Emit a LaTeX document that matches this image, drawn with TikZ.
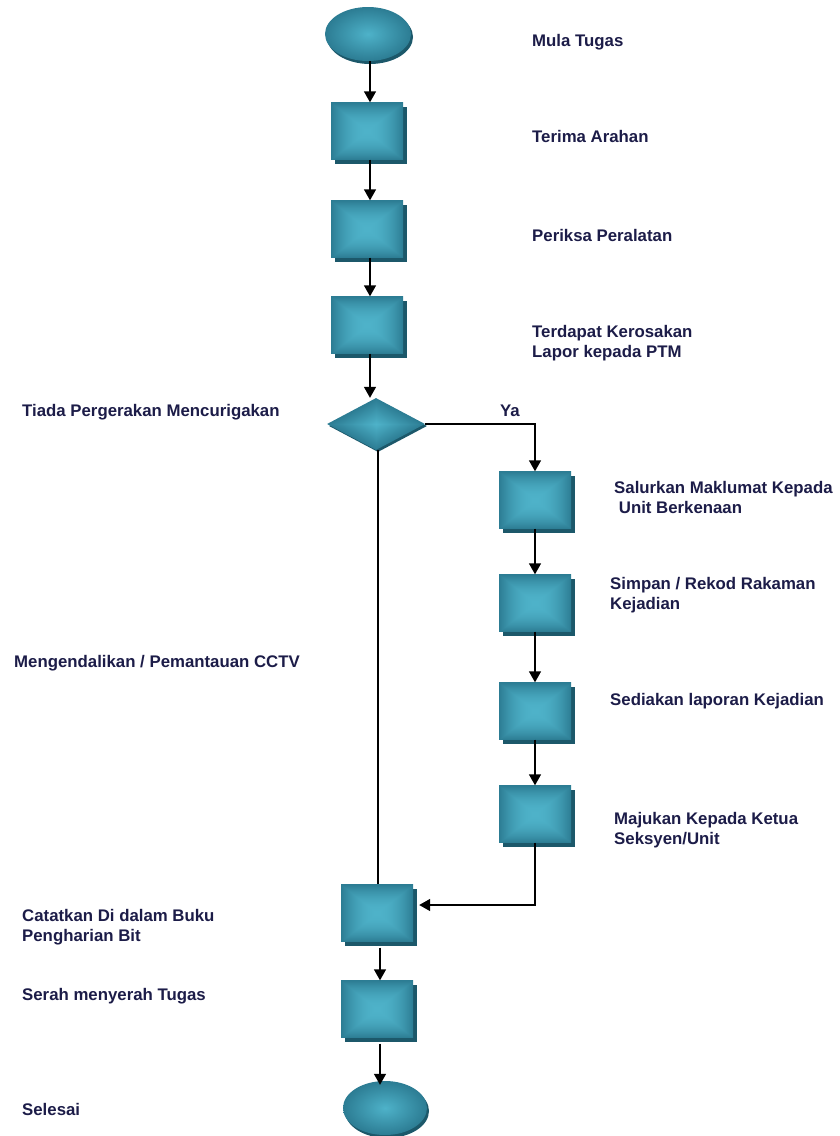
\documentclass[tikz,border=0pt]{standalone}
\usepackage{fontspec}
\setmainfont{Liberation Sans}
\usetikzlibrary{shapes.geometric,arrows.meta,shadows}

\definecolor{tealhi}{RGB}{78,178,201}
\definecolor{tealedge}{RGB}{44,124,147}
\definecolor{tealshadow}{RGB}{28,88,106}
\definecolor{inkblue}{RGB}{28,28,72}

% rectangular glow: light centre fading to the darker rim
\pgfdeclarefunctionalshading{boxglow}{\pgfpoint{-50bp}{-50bp}}{\pgfpoint{50bp}{50bp}}{}{
  abs exch abs 2 copy lt {exch} if pop 25 div
  dup 1 gt {pop 1} if
  dup mul
  dup dup
  -0.133 mul 0.306 add
  3 1 roll
  -0.212 mul 0.698 add
  exch
  -0.212 mul 0.788 add
}
% diamond-shaped glow for the decision symbol
\pgfdeclarefunctionalshading{diamondglow}{\pgfpoint{-50bp}{-50bp}}{\pgfpoint{50bp}{50bp}}{}{
  abs exch abs add 25 div
  dup 1 gt {pop 1} if
  dup dup
  -0.133 mul 0.306 add
  3 1 roll
  -0.212 mul 0.698 add
  exch
  -0.212 mul 0.788 add
}

\tikzset{
  castshadow/.style={drop shadow={shadow xshift=4pt,shadow yshift=-4pt,fill=tealshadow,opacity=1}},
  stepbox/.style={rectangle,castshadow,shading=boxglow,minimum width=72pt,minimum height=57pt,inner sep=0pt},
  terminal/.style={ellipse,drop shadow={shadow xshift=2pt,shadow yshift=-3pt,fill=tealshadow,opacity=1},inner color=tealhi,outer color=tealedge,minimum width=86pt,minimum height=54pt,inner sep=0pt},
  decision/.style={diamond,shading=diamondglow,drop shadow={shadow xshift=2pt,shadow yshift=-2pt,fill=tealshadow,opacity=1},minimum width=98pt,minimum height=52pt,inner sep=0pt},
  lbl/.style={anchor=base west,align=left,text=inkblue,inner sep=0pt,
    font=\fontsize{16.8}{19.5}\selectfont\bfseries},
  flow/.style={line width=1.5pt,draw=black},
  arr/.style={flow,-{Triangle[length=11pt,width=12pt]}}
}

\begin{document}
\begin{tikzpicture}[x=1pt,y=-1pt]
\useasboundingbox (0,0) rectangle (840,1136);

% main column
\node[terminal] (start) at (368,34) {};
\node[stepbox] (arahan) at (367,131) {};
\node[stepbox] (periksa) at (367,229) {};
\node[stepbox] (rosak) at (367,325) {};
\node[decision] (tiada) at (376,424) {};

% branch on "Ya"
\node[stepbox] (salur) at (535,500) {};
\node[stepbox] (simpan) at (535,603) {};
\node[stepbox] (sedia) at (535,711) {};
\node[stepbox] (maju) at (535,814) {};

% closing steps
\node[stepbox] (catat) at (377,913) {};
\node[stepbox] (serah) at (377,1009) {};
\node[terminal,minimum width=84pt] (selesai) at (385,1108) {};

% connectors
\draw[arr] (start.south -| 370,0) -- (arahan.north -| 370,0);
\draw[arr] (arahan.south -| 370,0) -- (periksa.north -| 370,0);
\draw[arr] (periksa.south -| 370,0) -- (rosak.north -| 370,0);
\draw[arr] (rosak.south -| 370,0) -- (tiada.north -| 370,0);
\draw[arr] (tiada.east) -| (salur.north);
\draw[arr] (salur.south) -- (simpan.north);
\draw[arr] (simpan.south) -- (sedia.north);
\draw[arr] (sedia.south) -- (maju.north);
\draw[flow] (tiada.south -| 378,0) -- (catat.north -| 378,0);
\draw[arr] (maju.south) |- ([shift={(6pt,8pt)}]catat.east);
\draw[arr] ([yshift=-6pt]catat.south -| 380,0) -- (serah.north -| 380,0);
\draw[arr] ([yshift=-6pt]serah.south -| 380,0) -- ([yshift=-4pt]selesai.north -| 380,0);

% labels (base anchor sits on the last line of a two-line label)
\node[lbl] (tMula) at (532,46) {Mula Tugas};
\node[lbl] (tArahan) at (532,142) {Terima Arahan};
\node[lbl] (tPeriksa) at (532,241) {Periksa Peralatan};
\node[lbl] (tRosak) at (532,357) {Terdapat Kerosakan\\Lapor kepada PTM};
\node[lbl] (tTiada) at (22,416) {Tiada Pergerakan Mencurigakan};
\node[lbl] (tYa) at (500,416) {Ya};
\node[lbl] (tSalur) at (614,513) {Salurkan Maklumat Kepada\\\ Unit Berkenaan};
\node[lbl] (tSimpan) at (610,609) {Simpan / Rekod Rakaman\\Kejadian};
\node[lbl] (tCCTV) at (14,667) {Mengendalikan / Pemantauan CCTV};
\node[lbl] (tSedia) at (610,705) {Sediakan laporan Kejadian};
\node[lbl] (tMaju) at (614,844) {Majukan Kepada Ketua\\Seksyen/Unit};
\node[lbl] (tCatat) at (22,941) {Catatkan Di dalam Buku\\Pengharian Bit};
\node[lbl] (tSerah) at (22,1000) {Serah menyerah Tugas};
\node[lbl] (tSelesai) at (22,1115) {Selesai};
\end{tikzpicture}
\end{document}
